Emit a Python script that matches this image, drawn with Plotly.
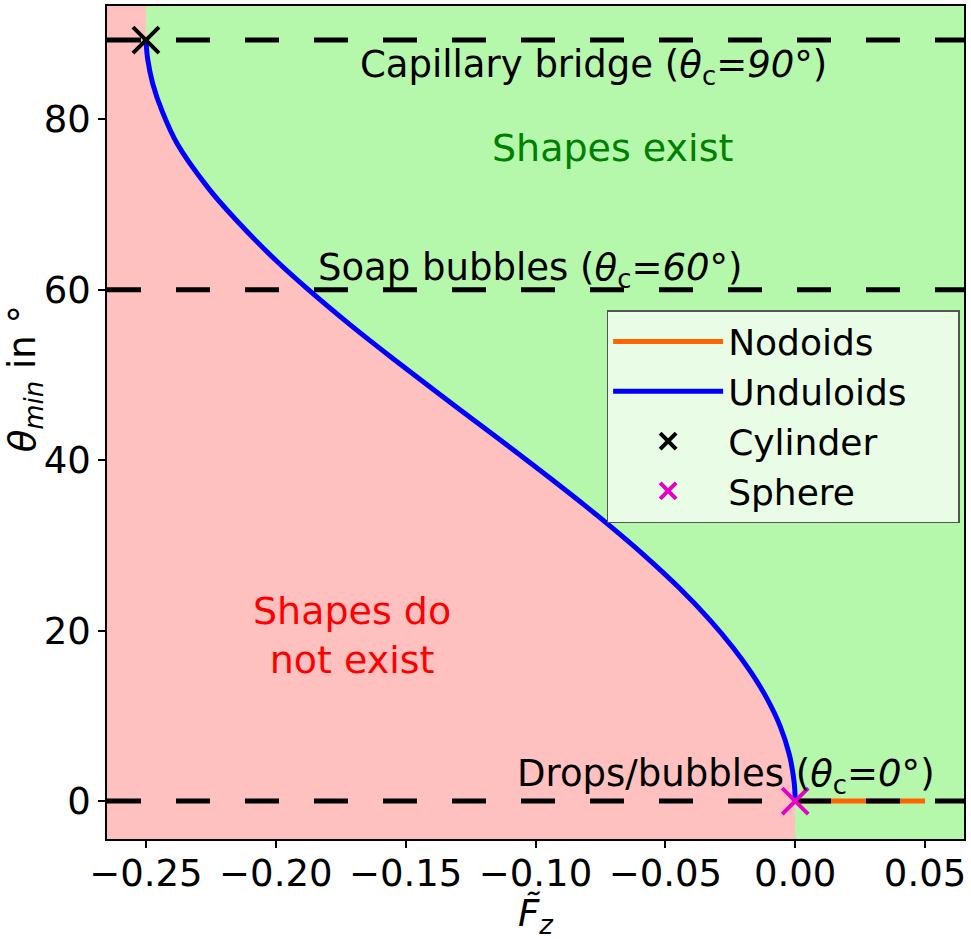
import plotly.graph_objects as go

# unduloid limit curve
theta_min = [89.3, 87.0, 84.2, 80.9, 77.1, 71.9, 68.1, 63.4, 60.1, 56.0, 52.0, 48.0,
             44.7, 41.0, 38.0, 34.5, 32.0, 29.1, 25.0, 21.3, 18.0, 15.1, 12.0, 8.8,
             5.5, 2.2, 0.0]
fz_undul = [-0.2500, -0.2493, -0.2474, -0.2437, -0.2379, -0.2259, -0.2150, -0.1998,
            -0.1878, -0.1718, -0.1552, -0.1381, -0.1237, -0.1076, -0.0948, -0.0802,
            -0.0702, -0.0591, -0.0446, -0.0330, -0.0239, -0.0170, -0.0108, -0.0058,
            -0.0023, -0.0004, 0.0]

fz_nodoid = [0.0, 0.05]
theta_nodoid = [0.0, 0.0]

cylinder = (-0.25, 89.3)
sphere = (0.0, 0.0)

hlines = [89.3, 60.0, 0.0]
hline_labels = ["Capillary bridge (<i>θ</i><sub>c</sub><i>=90°</i>)",
                "Soap bubbles (<i>θ</i><sub>c</sub><i>=60°</i>)",
                "Drops/bubbles (<i>θ</i><sub>c</sub><i>=0°</i>)"]
label_x = [-0.0775, -0.102, -0.0265]
label_y = [86.1, 62.3, 3.0]

X_RANGE = [-0.265, 0.065]
Y_RANGE = [-4.45, 93.3]

RED_BG = "#ffc0c0"
GREEN_BG = "#b5f8ab"
FONT = "DejaVu Sans"

fig = go.Figure()

# region where shapes do not exist (left of the curve)
poly_x = [X_RANGE[0], fz_undul[0]] + fz_undul + [fz_undul[-1], X_RANGE[0]]
poly_y = [Y_RANGE[1], Y_RANGE[1]] + theta_min + [Y_RANGE[0], Y_RANGE[0]]
fig.add_trace(go.Scatter(x=poly_x, y=poly_y, mode="lines", fill="toself",
                         fillcolor=RED_BG, line=dict(width=0), showlegend=False,
                         hoverinfo="skip"))

fig.add_trace(go.Scatter(x=fz_nodoid, y=theta_nodoid, mode="lines", name="Nodoids",
                         line=dict(color="#ff6400", width=5), legendrank=1))

for h in hlines:
    fig.add_trace(go.Scatter(x=X_RANGE, y=[h, h], mode="lines", showlegend=False,
                             line=dict(color="black", width=5, dash="34px,35px"),
                             hoverinfo="skip"))

fig.add_trace(go.Scatter(x=fz_undul, y=theta_min, mode="lines",
                         name="Unduloids\u00a0\u00a0\u00a0\u00a0",
                         line=dict(color="#0000ff", width=5, shape="spline"),
                         legendrank=2))

fig.add_trace(go.Scatter(x=[cylinder[0]], y=[cylinder[1]], mode="markers", name="Cylinder",
                         marker=dict(symbol="x-thin", size=26,
                                     line=dict(color="black", width=4)),
                         legendrank=3, cliponaxis=False))
fig.add_trace(go.Scatter(x=[sphere[0]], y=[sphere[1]], mode="markers", name="Sphere",
                         marker=dict(symbol="x-thin", size=26,
                                     line=dict(color="#e600c8", width=4)),
                         legendrank=4, cliponaxis=False))

for txt, x, y in zip(hline_labels, label_x, label_y):
    fig.add_annotation(x=x, y=y, text=txt, showarrow=False,
                       font=dict(size=37, color="black", family=FONT))

fig.add_annotation(x=-0.0705, y=76.6, text="Shapes exist", showarrow=False,
                   font=dict(size=38, color="#008000", family=FONT))
fig.add_annotation(x=-0.1705, y=19.4, text="Shapes do<br>not exist", showarrow=False,
                   font=dict(size=38, color="#ff0000", family=FONT))

# y-axis label, placed as rotated text left of the tick labels
fig.add_annotation(xref="paper", yref="paper", x=-0.0955, y=0.552,
                   text="<i>θ</i><sub><i>min</i></sub> in °", textangle=-90,
                   showarrow=False, xanchor="center", yanchor="middle",
                   font=dict(size=37, color="black", family=FONT))

fig.update_layout(
    width=971, height=940,
    margin=dict(l=107, r=7, t=4, b=101),
    paper_bgcolor="white", plot_bgcolor=GREEN_BG,
    font=dict(family=FONT, size=36, color="black"),
    legend=dict(x=0.583, y=0.635, xanchor="left", yanchor="top",
                bgcolor="rgba(255,255,255,0.7)", bordercolor="#555555", borderwidth=1.5,
                font=dict(size=36), itemwidth=110, tracegroupgap=0),
)
fig.update_xaxes(range=X_RANGE, tickvals=[-0.25, -0.2, -0.15, -0.1, -0.05, 0.0, 0.05],
                 tickformat=".2f", showgrid=False, zeroline=False,
                 showline=True, linecolor="black", linewidth=1.5, mirror=True,
                 ticks="outside", ticklen=7, tickwidth=1.5, tickcolor="black",
                 tickfont=dict(size=37), ticklabelstandoff=-6,
                 title=dict(text="<i>F\u0303</i><sub><i>z</i></sub>", font=dict(size=37),
                            standoff=14))
fig.update_yaxes(range=Y_RANGE, tickvals=[0, 20, 40, 60, 80],
                 showgrid=False, zeroline=False,
                 showline=True, linecolor="black", linewidth=1.5, mirror=True,
                 ticks="outside", ticklen=7, tickwidth=1.5, tickcolor="black",
                 tickfont=dict(size=37))

fig.write_html("out.html", config={"displayModeBar": False},
               post_script="document.body.style.margin='0';")
